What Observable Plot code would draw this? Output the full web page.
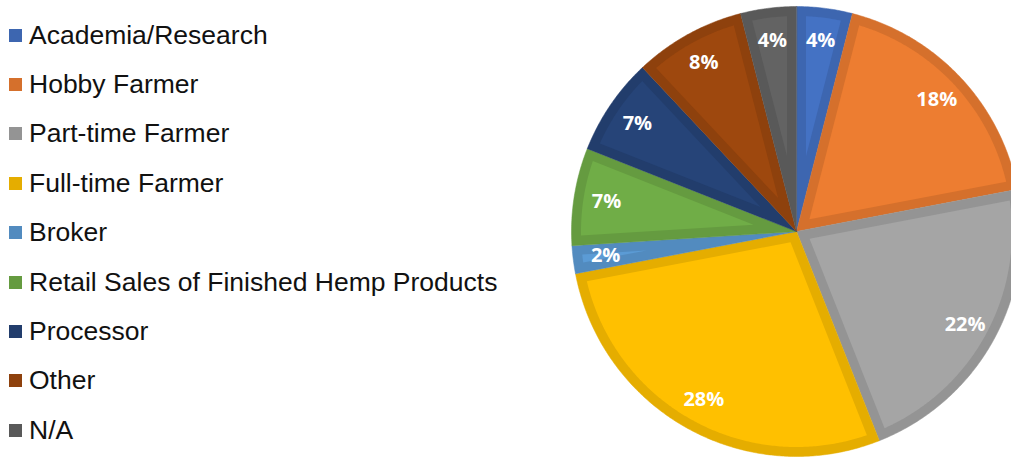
<!DOCTYPE html>
<html>
<head>
<meta charset="utf-8">
<script src="https://cdn.jsdelivr.net/npm/d3@7"></script>
<script src="https://cdn.jsdelivr.net/npm/@observablehq/plot@0.6"></script>
<style>
  html, body { margin: 0; padding: 0; background: #fff; }
  #wrap { position: relative; width: 1011px; height: 458px; overflow: hidden; }
  #legend { position: absolute; left: 0; top: 0; font-family: "Liberation Sans", Arial, sans-serif; font-size: 26.5px; color: #111; }
  .item { position: absolute; left: 9px; display: flex; align-items: center; white-space: nowrap; height: 30px; }
  .sw { width: 13px; height: 13px; margin-right: 7px; flex: none; }
  #chart { position: absolute; left: 0; top: 0; }
</style>
</head>
<body>
<div id="wrap">
  <div id="chart"></div>
  <div id="legend"></div>
</div>
<script>
// ---- data ----
const categories = ["Academia/Research", "Hobby Farmer", "Part-time Farmer", "Full-time Farmer", "Broker",
  "Retail Sales of Finished Hemp Products", "Processor", "Other", "N/A"];
const shares = [4, 18, 22, 28, 2, 7, 7, 8, 4];
const labels = ["4%", "18%", "22%", "28%", "2%", "7%", "7%", "8%", "4%"];
const colors = ["#4472C4", "#ED7D31", "#A5A5A5", "#FFC000", "#5B9BD5", "#70AD47", "#264478", "#9E480E", "#636363"];

// ---- layout ----
const W = 1011, H = 458;
const CX = 796, CY = 231, R = 225, INSET = 9.5;
const borderColor = c => d3.color(c).darker(0.3).formatHex();

const total = d3.sum(shares);
const rad = Math.PI / 180;
let acc = 0;
const slices = categories.map((cat, i) => {
  const a0 = acc / total * 360;
  acc += shares[i];
  const a1 = acc / total * 360;
  return {cat, i, a0, a1, label: labels[i], color: colors[i]};
});
// clockwise from top, y up
const pt = (aDeg, r) => ({x: r * Math.sin(aDeg * rad), y: r * Math.cos(aDeg * rad)});

function arcPts(a0, a1, r) {
  const n = Math.max(2, Math.ceil((a1 - a0) / 0.5));
  return d3.range(n + 1).map(k => pt(a0 + (a1 - a0) * k / n, r));
}
function outerWedge(s) {
  return [{x: 0, y: 0}, ...arcPts(s.a0, s.a1, R)];
}
function innerWedge(s) {
  const h = (s.a1 - s.a0) / 2 * rad;
  const apex = INSET / Math.sin(h);
  const ri = R - INSET;
  if (apex >= ri - 1) return null;
  const t = Math.sqrt(ri * ri - INSET * INSET);
  const delta = Math.atan2(INSET, t) / rad;
  return [pt((s.a0 + s.a1) / 2, apex), ...arcPts(s.a0 + delta, s.a1 - delta, ri)];
}

const marks = [];
for (const s of slices) {
  marks.push(Plot.line(outerWedge(s), {x: "x", y: "y", fill: borderColor(s.color), stroke: borderColor(s.color), strokeWidth: 0.5, curve: "linear-closed"}));
  const inner = innerWedge(s);
  if (inner) marks.push(Plot.line(inner, {x: "x", y: "y", fill: s.color, stroke: "none", curve: "linear-closed"}));
}
const labelData = slices.map(s => ({...pt((s.a0 + s.a1) / 2, R * 0.855), label: s.label}));
marks.push(Plot.text(labelData, {x: "x", y: "y", text: "label", fill: "white", fontSize: 20, fontWeight: "bold",
  fontFamily: "'Open Sans', sans-serif", textAnchor: "middle", dy: 0}));

const chart = Plot.plot({
  width: W, height: H,
  margin: 0,
  x: {domain: [-CX, W - CX], axis: null},
  y: {domain: [CY - H, CY], axis: null},
  style: {background: "white", overflow: "visible"},
  marks
});
document.getElementById("chart").appendChild(chart);

// ---- legend ----
const legend = document.getElementById("legend");
const rowTop = 35, rowStep = 49.4;
categories.forEach((cat, i) => {
  const it = document.createElement("div");
  it.className = "item";
  it.style.top = (rowTop + i * rowStep - 15) + "px";
  const sw = document.createElement("span");
  sw.className = "sw";
  sw.style.background = borderColor(colors[i]);
  const tx = document.createElement("span");
  tx.textContent = cat;
  it.appendChild(sw); it.appendChild(tx);
  legend.appendChild(it);
});
</script>
</body>
</html>
